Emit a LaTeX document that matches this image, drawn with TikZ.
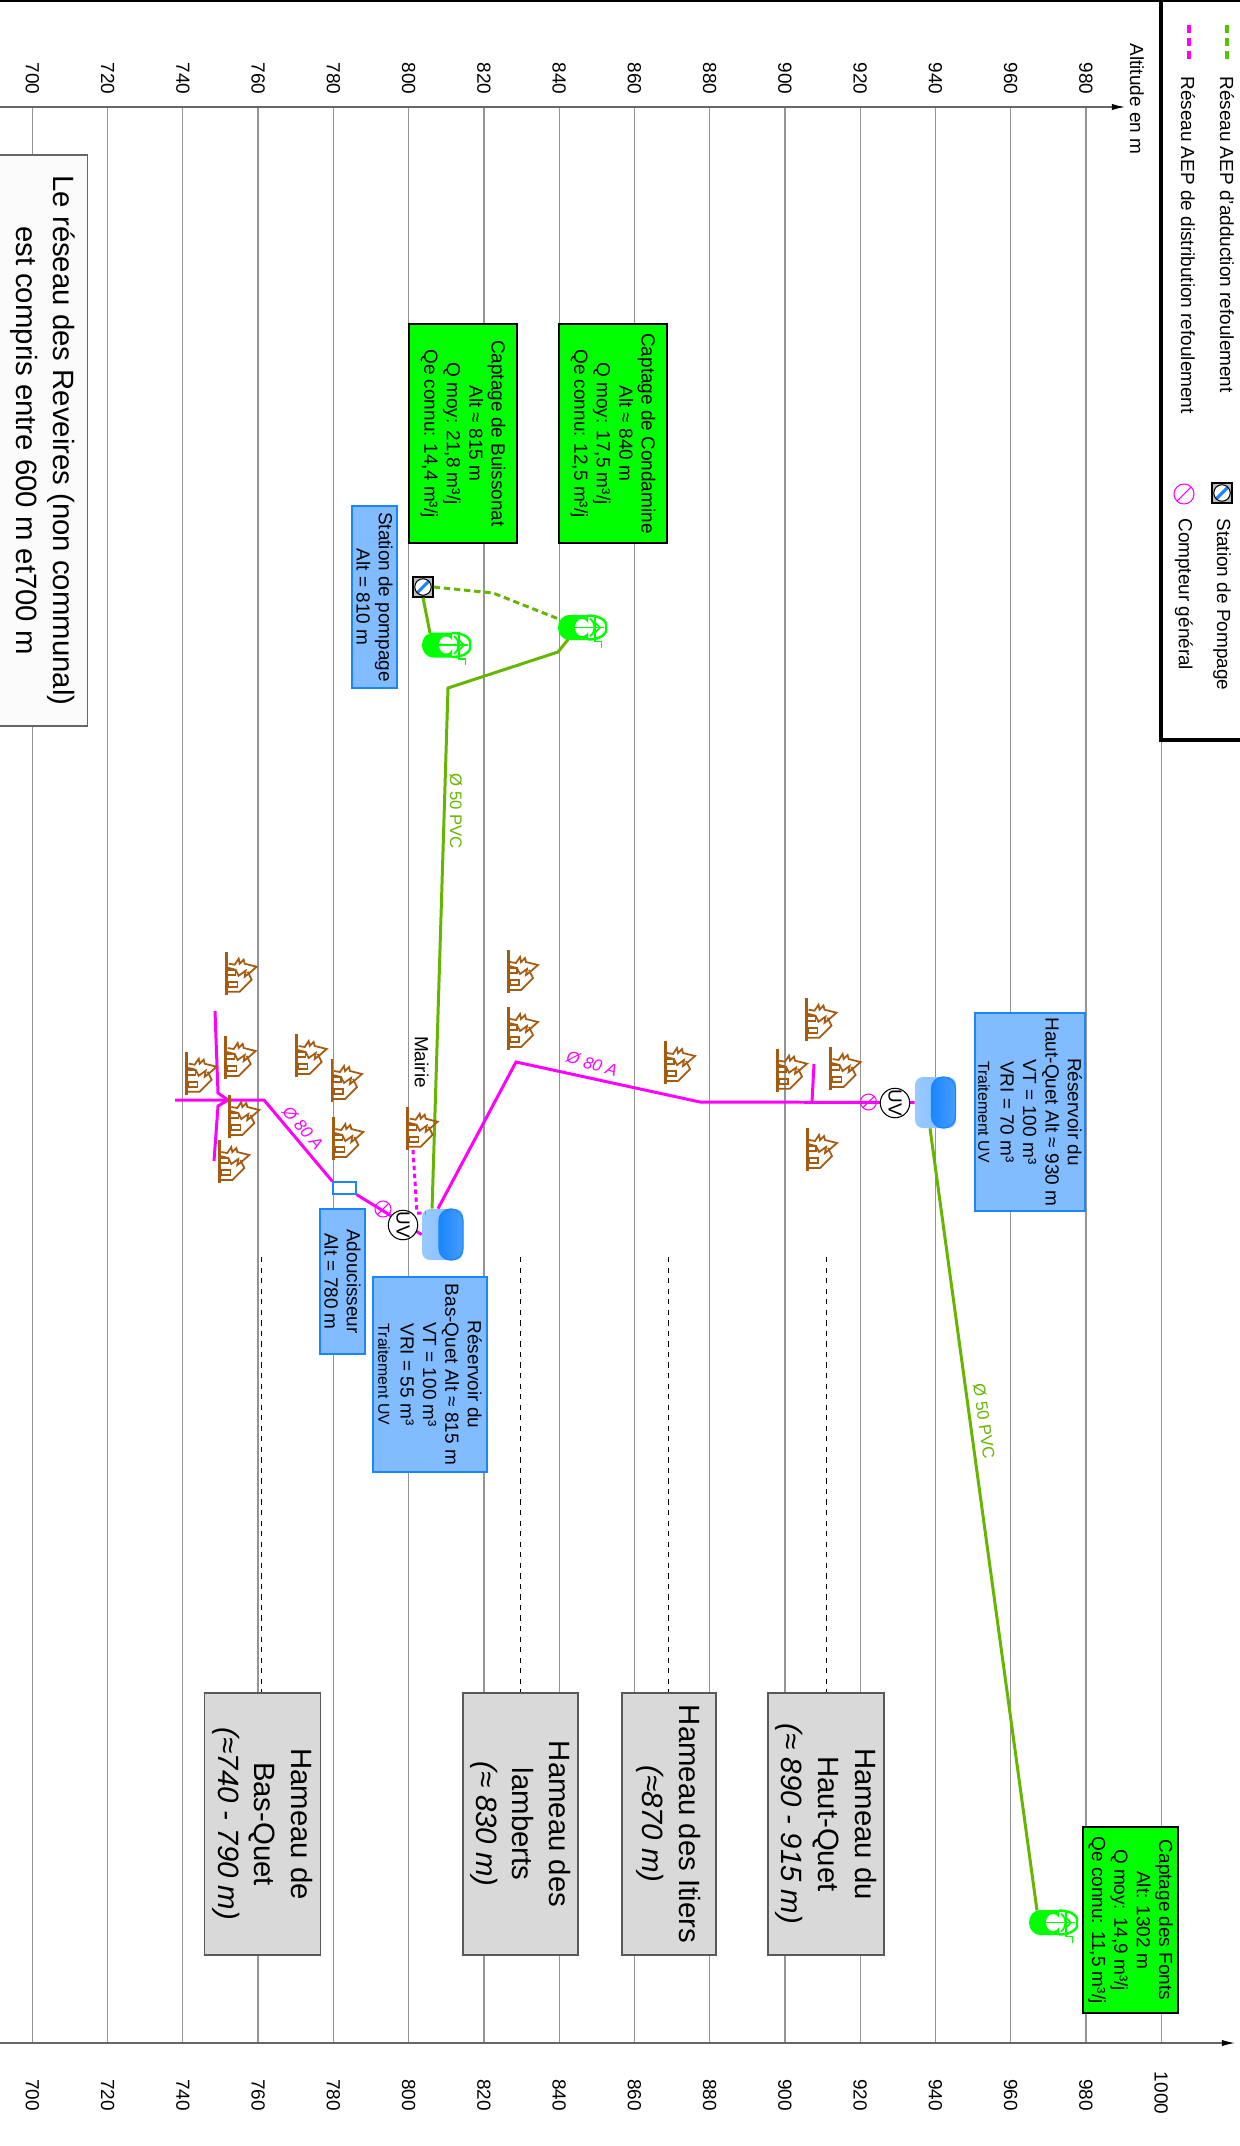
\documentclass[tikz,border=0pt]{standalone}
\usepackage{fontspec}
\setmainfont{Liberation Sans}
\usetikzlibrary{arrows.meta}
\definecolor{vertadd}{HTML}{66B500}
\definecolor{vertcap}{HTML}{00FF00}
\definecolor{rose}{HTML}{FF00FF}
\definecolor{bleubox}{HTML}{80BCFF}
\definecolor{bleutrait}{HTML}{1A85FF}
\definecolor{brun}{HTML}{A65A0F}
\tikzset{
gridline/.style={draw=black!42, line width=0.75pt},
axeline/.style={draw=black!60, line width=0.7pt, -{Latex[length=7.5pt,width=3.6pt,black]}},
ticklabel/.style={rotate=-90, inner sep=0pt, font=\fontsize{10.8}{12.75}\selectfont},
texte/.style={rotate=-90, inner sep=0pt, align=center, font=\fontsize{10.8}{12.75}\selectfont},
legtexte/.style={texte, anchor=west},
captbox/.style={texte, rectangle, draw=black, line width=1pt, fill=vertcap},
infobox/.style={texte, rectangle, draw=bleutrait, line width=1.1pt, fill=bleubox},
hameaubox/.style={rotate=-90, inner sep=0pt, align=center, rectangle, draw=black!65, line width=0.7pt, fill=black!15, minimum width=5.24cm, font=\fontsize{16.7}{21}\selectfont},
reseaubox/.style={rotate=-90, inner sep=0pt, align=center, rectangle, draw=black!60, line width=0.7pt, fill=black!1.5, font=\fontsize{16.7}{21}\selectfont},
adduction/.style={draw=vertadd, line width=1.7pt},
distrib/.style={draw=rose, line width=1.7pt},
guide/.style={draw=black, line width=0.5pt, dashed},
diamlabel/.style={inner sep=0pt, font=\fontsize{9.5}{10}\selectfont},
compteur/.style={circle, draw=rose, line width=0.6pt, minimum size=0.32cm, inner sep=0pt, path picture={\draw[rose, line width=0.6pt](path picture bounding box.south west) -- (path picture bounding box.north east);}},
uvnode/.style={circle, draw=black, line width=0.6pt, fill=white, minimum size=0.58cm, inner sep=0pt, rotate=-90, font=\fontsize{10.8}{12.75}\selectfont},
pompebox/.style={rectangle, draw=black, line width=0.7pt, fill=black!25, minimum size=0.4cm, inner sep=0pt, path picture={\fill[white](path picture bounding box.center) circle (4.7pt); \draw[bleutrait, line width=1.8pt](path picture bounding box.center) ++(-3.2pt,-3.2pt) -- ++(6.4pt,6.4pt); \draw[black, line width=0.6pt](path picture bounding box.center) circle (4.7pt);}},
reservoir/.style={rectangle, rounded corners=4.5pt, minimum width=0.82cm, minimum height=1.02cm, inner sep=0pt, left color=bleubox!80!white, right color=bleubox},
reservoirfond/.style={rectangle, rounded corners=6.5pt, draw=bleutrait, line width=0.7pt, minimum width=0.48cm, minimum height=1.02cm, inner sep=0pt, left color=bleutrait, right color=bleutrait!80!white},
maison/.pic={
\draw[brun, line width=1.7pt](0,0) -- (0,43);
\draw[brun, line width=1pt](2,12) -- (8,13) -- (12,7) -- (13,12) -- (17,8) -- (18,12) -- (30,15) -- (22,22) -- (18,25) -- (19,19) -- (12,24) -- (9,18) -- (1,16);
\draw[brun, line width=1pt](21,20) -- (25,28) -- (13,40) -- (0,40);
\draw[brun, line width=0.9pt](1,18) rectangle (9,23);
\draw[brun, line width=0.9pt](2,30) rectangle (11,35);
},
captage/.pic={
\coordinate (-haut) at (8,-12);
\coordinate (-gauche) at (2,-8);
\coordinate (-bas) at (10,12);
\fill[vertcap](12,-12.5) .. controls (-4,-12.5) and (-4,12.5) .. (12,12.5) -- (30,12.5) -- (30,-12.5) -- cycle;
\fill[white](24,0) ellipse [x radius=7, y radius=8.5];
\draw[vertcap, line width=1.4pt](30,-12) .. controls (44,-12) and (50,-5) .. (48,0) .. controls (50,5) and (44,12) .. (30,12);
\draw[vertcap, line width=0.8pt](17,0) -- (46,0);
\draw[vertcap, line width=1pt](32,-9) .. controls (38,-4) and (38,4) .. (32,9);
\draw[vertcap, line width=0.8pt](37,-13) -- (37,14) -- (43.5,14) -- (43.5,20);
\draw[vertcap, line width=1pt](37,-5) -- (42,0) -- (37,5);
},
}
\begin{document}
\begin{tikzpicture}[x=0.02cm, y=-0.02cm]
\useasboundingbox (0,0) rectangle (1240,2146);
\coordinate (axt) at (0,107);
\coordinate (axtf) at (1125,107);
\coordinate (axb) at (0,2043);
\coordinate (axbf) at (1235,2043);
\coordinate (legcoin) at (1161.2,740);
\node[ticklabel] (tl700) at (32.3,78.5){700};
\node[ticklabel] (tl720) at (107.6,78.5){720};
\node[ticklabel] (tl740) at (182.8,78.5){740};
\node[ticklabel] (tl760) at (258.1,78.5){760};
\node[ticklabel] (tl780) at (333.4,78.5){780};
\node[ticklabel] (tl800) at (408.6,78.5){800};
\node[ticklabel] (tl820) at (483.9,78.5){820};
\node[ticklabel] (tl840) at (559.2,78.5){840};
\node[ticklabel] (tl860) at (634.4,78.5){860};
\node[ticklabel] (tl880) at (709.7,78.5){880};
\node[ticklabel] (tl900) at (785,78.5){900};
\node[ticklabel] (tl920) at (860.2,78.5){920};
\node[ticklabel] (tl940) at (935.4,78.5){940};
\node[ticklabel] (tl960) at (1010.7,78.5){960};
\node[ticklabel] (tl980) at (1086,78.5){980};
\node[ticklabel] (bl700) at (32.3,2095){700};
\node[ticklabel] (bl720) at (107.6,2095){720};
\node[ticklabel] (bl740) at (182.8,2095){740};
\node[ticklabel] (bl760) at (258.1,2095){760};
\node[ticklabel] (bl780) at (333.4,2095){780};
\node[ticklabel] (bl800) at (408.6,2095){800};
\node[ticklabel] (bl820) at (483.9,2095){820};
\node[ticklabel] (bl840) at (559.2,2095){840};
\node[ticklabel] (bl860) at (634.4,2095){860};
\node[ticklabel] (bl880) at (709.7,2095){880};
\node[ticklabel] (bl900) at (785,2095){900};
\node[ticklabel] (bl920) at (860.2,2095){920};
\node[ticklabel] (bl940) at (935.4,2095){940};
\node[ticklabel] (bl960) at (1010.7,2095){960};
\node[ticklabel] (bl980) at (1086,2095){980};
\node[ticklabel] (bl1000) at (1161.2,2093){1000};
\draw[gridline](tl700 |- axt) -- (bl700 |- axb);
\draw[gridline](tl720 |- axt) -- (bl720 |- axb);
\draw[gridline](tl740 |- axt) -- (bl740 |- axb);
\draw[gridline](tl760 |- axt) -- (bl760 |- axb);
\draw[gridline](tl780 |- axt) -- (bl780 |- axb);
\draw[gridline](tl800 |- axt) -- (bl800 |- axb);
\draw[gridline](tl820 |- axt) -- (bl820 |- axb);
\draw[gridline](tl840 |- axt) -- (bl840 |- axb);
\draw[gridline](tl860 |- axt) -- (bl860 |- axb);
\draw[gridline](tl880 |- axt) -- (bl880 |- axb);
\draw[gridline](tl900 |- axt) -- (bl900 |- axb);
\draw[gridline](tl920 |- axt) -- (bl920 |- axb);
\draw[gridline](tl940 |- axt) -- (bl940 |- axb);
\draw[gridline](tl960 |- axt) -- (bl960 |- axb);
\draw[gridline](tl980 |- axt) -- (bl980 |- axb);
\draw[gridline](legcoin) -- (bl1000 |- axb);
\draw[axeline](axt) -- (axtf);
\draw[axeline](axb) -- (axbf);
\node[texte] (altitude) at (1137,99){Altitude en m};
\coordinate (bordg) at (0,1);
\coordinate (bordd) at (1240,1);
\coordinate (leghaut) at (1161.2,0);
\coordinate (legdroit) at (1240,740);
\draw[black, line width=1.7pt](bordg) -- (bordd);
\draw[black, line width=2.3pt](leghaut) -- (legcoin) -- (legdroit);
\coordinate (legv1) at (1227,25);
\coordinate (legv2) at (1227,64);
\coordinate (legr1) at (1189,25);
\coordinate (legr2) at (1189,64);
\draw[draw=vertadd!80!green, line width=2.3pt, dash pattern=on 4.5pt off 3pt](legv1) -- (legv2);
\draw[draw=rose, line width=2.3pt, dash pattern=on 4.5pt off 3pt](legr1) -- (legr2);
\node[legtexte] (legadd) at (1227,76){Réseau AEP d'adduction refoulement};
\node[legtexte] (legdis) at (1188,76){Réseau AEP de distribution refoulement};
\node[pompebox] (legpompe) at (1222,493){};
\node[compteur, minimum size=0.4cm] (legcompt) at (1184,494){};
\node[legtexte] (legsta) at (1222,518){Station de Pompage};
\node[legtexte] (legcpt) at (1184,518){Compteur général};
\node[reseaubox, minimum width=11.42cm, minimum height=1.814cm] (reseau) at (42.35,440.5){Le réseau des Reveires (non communal)\\est compris entre 600 m et700 m};
\node[captbox, minimum width=4.38cm, minimum height=2.16cm] (bcond) at (613,433.5){Captage de Condamine\\Alt ≈ 840 m\\Q moy: 17,5 m³/j\\Qe connu: 12,5 m³/j};
\node[captbox, minimum width=4.38cm, minimum height=2.16cm] (bbuis) at (463,433.5){Captage de Buissonat\\Alt ≈ 815 m\\Q moy: 21,8 m³/j\\Qe connu: 14,4 m³/j};
\node[captbox, minimum width=3.72cm, minimum height=1.9cm] (bfont) at (1130.5,1920){Captage des Fonts\\Alt: 1302 m\\Q moy: 14,9 m³/j\\Qe connu: 11,5 m³/j};
\node[infobox, minimum width=3.64cm, minimum height=0.9cm] (bstat) at (374.5,597){Station de pompage\\Alt = 810 m};
\node[infobox, minimum width=2.9cm, minimum height=0.9cm] (badou) at (342.5,1281.5){Adoucisseur\\Alt = 780 m};
\node[infobox, minimum width=3.96cm, minimum height=2.2cm] (bhaut) at (1030,1112){Réservoir du\\Haut-Quet Alt ≈ 930 m\\VT = 100 m³\\VRI = 70 m³\\{\fontsize{9}{12.75}\selectfont Traitement UV}};
\node[infobox, minimum width=3.9cm, minimum height=2.28cm] (bbas) at (430,1374.5){Réservoir du\\Bas-Quet Alt ≈ 815 m\\VT = 100 m³\\VRI = 55 m³\\{\fontsize{9}{12.75}\selectfont Traitement UV}};
\node[hameaubox, minimum height=2.31cm] (hambas) at (262.5,1824){Hameau de\\Bas-Quet\\{\itshape (≈740 - 790 m)}};
\node[hameaubox, minimum height=2.3cm] (hamlam) at (520.5,1824){Hameau des\\lamberts\\{\itshape (≈ 830 m)}};
\node[hameaubox, minimum height=1.88cm] (hamiti) at (669,1824){Hameau des Itiers\\{\itshape (≈870 m)}};
\node[hameaubox, minimum height=2.32cm] (hamhaut) at (826,1824){Hameau du\\Haut-Quet\\{\itshape (≈ 890 - 915 m)}};
\coordinate (gbas) at (261,1257);
\coordinate (glam) at (520,1257);
\coordinate (giti) at (668,1257);
\coordinate (ghaut) at (826,1257);
\draw[guide](gbas) -- (gbas |- hambas.west);
\draw[guide](glam) -- (glam |- hamlam.west);
\draw[guide](giti) -- (giti |- hamiti.west);
\draw[guide](ghaut) -- (ghaut |- hamhaut.west);
\node[reservoir] (resbas) at (442.5,1234.5){};
\node[reservoirfond] (resbasf) at (451,1234.5){};
\node[reservoir] (reshaut) at (935.5,1102.5){};
\node[reservoirfond] (reshautf) at (943.5,1102.5){};
\pic (capbuis) at (422,645){captage};
\pic (capcond) at (558,627.5){captage};
\pic (capfont) at (1029,1922.5){captage};
\node[pompebox] (pompe) at (423,587){};
\coordinate (cdash) at (493,593);
\coordinate (cadd1) at (558,652);
\coordinate (cadd2) at (448,688);
\draw[adduction](pompe.south) -- (capbuis-haut);
\draw[adduction, dash pattern=on 3.6pt off 2.2pt](pompe.east) -- (cdash) -- (capcond-gauche);
\draw[adduction](capcond-bas) -- (cadd1) -- (cadd2) -- (resbas.112);
\draw[adduction](reshaut.258) -- (capfont-haut);
\node[diamlabel, text=vertadd, rotate=-90] (d50a) at (456,811){Ø 50 PVC};
\node[diamlabel, text=vertadd, rotate=-82] (d50b) at (984,1421){Ø 50 PVC};
\node[rectangle, draw=bleutrait, line width=0.7pt, fill=white, minimum width=0.46cm, minimum height=0.24cm, inner sep=0pt] (adou) at (344.5,1188){};
\coordinate (cpic) at (516,1062);
\coordinate (cdis) at (700,1102);
\coordinate (cbranche) at (812,1102);
\coordinate (cbrfin) at (814,1064);
\coordinate (cnoeud) at (264,1100);
\coordinate (cfin) at (175,1100);
\coordinate (cpoint) at (228,1100);
\coordinate (cb1a) at (215,1011);
\coordinate (cb1b) at (218,1093);
\coordinate (cb2a) at (214,1161);
\coordinate (cb2b) at (218,1106);
\coordinate (cmai1) at (413,1150);
\coordinate (cmai2) at (417,1213);
\coordinate (cmai3) at (425.7,1213);
\draw[distrib](resbas.100) -- (cpic) -- (cdis) -- (reshaut.west);
\draw[distrib](cbranche) -- (cbrfin);
\draw[distrib](adou.south east) -- (resbas.west);
\draw[distrib](adou.north west) -- (cnoeud) -- (cfin);
\draw[distrib](cb1a) -- (cb1b) -- (cpoint);
\draw[distrib](cb2a) -- (cb2b) -- (cpoint);
\draw[distrib, dash pattern=on 2.5pt off 2pt](cmai1) -- (cmai2) -- (cmai3);
\node[diamlabel, text=rose, font=\fontsize{9.5}{10}\selectfont\itshape, rotate=-49] (d80a) at (303,1128){Ø 80 A};
\node[diamlabel, text=rose, font=\fontsize{9.5}{10}\selectfont\itshape, rotate=-17] (d80b) at (592,1064){Ø 80 A};
\node[compteur] (cpt1) at (383,1209){};
\node[compteur] (cpt2) at (868.5,1102){};
\node[uvnode] (uv1) at (403,1225){UV};
\node[uvnode] (uv2) at (895,1103){UV};
\node[texte] (mairie) at (421.7,1062){Mairie};
\pic at (226.7,951.7){maison};
\pic at (225.7,1036){maison};
\pic at (186.7,1051.7){maison};
\pic at (229.3,1095){maison};
\pic at (219.3,1140){maison};
\pic at (296.7,1034){maison};
\pic at (332,1059){maison};
\pic at (333.3,1117){maison};
\pic at (407.7,1106.7){maison};
\pic at (508,950){maison};
\pic at (508,1007){maison};
\pic at (665,1041){maison};
\pic at (777,1048.7){maison};
\pic at (806.5,997.7){maison};
\pic at (830.6,1047){maison};
\pic at (807,1128){maison};
\end{tikzpicture}
\end{document}
